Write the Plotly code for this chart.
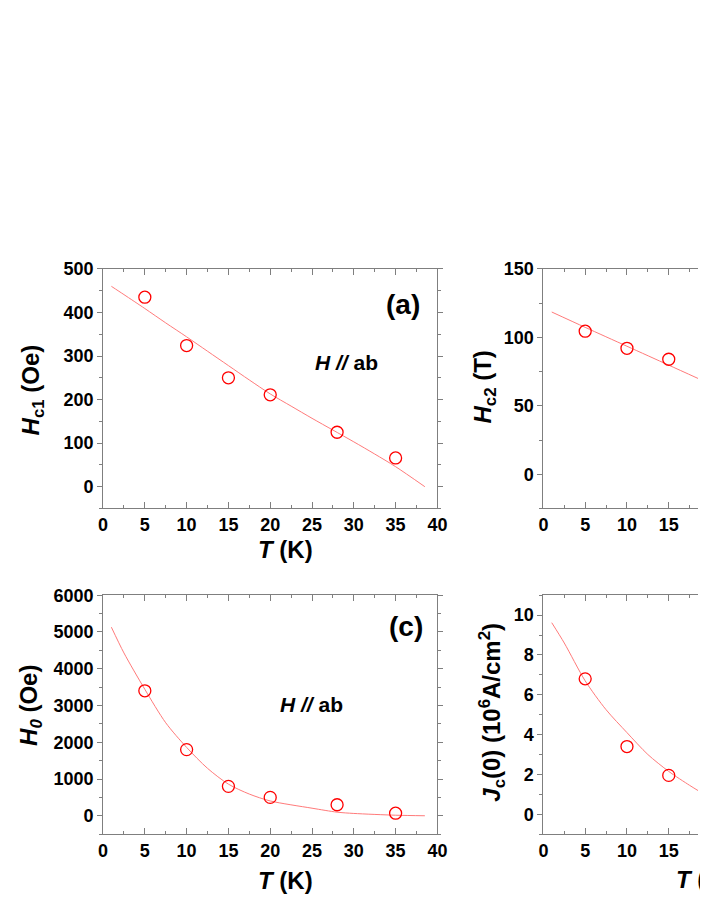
import plotly.graph_objects as go

# measured points
T_pts = [5, 10, 15, 20, 28, 35]
Hc1_pts = [435, 324, 250, 211, 125, 66]
H0_pts = [3400, 1800, 800, 500, 300, 70]

T_b = [5, 10, 15]
Hc2_pts = [104.5, 92, 84]
Jc_pts = [6.8, 3.4, 1.95]

# fitted curves
T_fit_a = [1, 2.5, 5, 7.5, 10, 12.5, 15, 17.5, 20, 22.5, 25, 27.5, 30, 32.5, 35, 38.5]
Hc1_fit = [460, 441, 409, 376, 344, 311, 278, 245, 213, 185, 157, 130, 103, 75, 46, 0]
T_fit_c = [1, 2.5, 5, 7.5, 10, 12.5, 15, 17.5, 20, 25, 28, 30, 35, 38.5]
H0_fit = [5130, 4430, 3440, 2530, 1860, 1290, 860, 590, 403, 206, 98, 63, 15, 0]

T_fit_b = [1, 5, 10, 15, 18.5]
Hc2_fit = [118.5, 107.3, 93.5, 79.7, 70]
T_fit_d = [1, 2.5, 5, 7.5, 10, 12.5, 15, 17.5, 18.5]
Jc_fit = [9.62, 8.6, 6.7, 5.25, 4.1, 3.0, 2.15, 1.45, 1.19]

# page body has an 8px margin, so the figure is a bit smaller than the window
OFF = 8
W, H = 700, 901
FONT = "Liberation Sans, Arial, sans-serif"
GREY = "#7f7f7f"
LINE = "#ff7a7a"


def px(x):
    return (x - OFF) / W


def py(y):
    return 1 - (y - OFF) / H


fig = go.Figure()

panels = [
    ("x", "y", T_pts, Hc1_pts, T_fit_a, Hc1_fit),
    ("x2", "y2", T_b, Hc2_pts, T_fit_b, Hc2_fit),
    ("x3", "y3", T_pts, H0_pts, T_fit_c, H0_fit),
    ("x4", "y4", T_b, Jc_pts, T_fit_d, Jc_fit),
]
for xa, ya, tx, ty, fx, fy in panels:
    fig.add_trace(go.Scatter(x=fx, y=fy, mode="lines", xaxis=xa, yaxis=ya,
                             line=dict(color=LINE, width=1, shape="spline", smoothing=0.8),
                             showlegend=False, hoverinfo="skip"))
    fig.add_trace(go.Scatter(x=tx, y=ty, mode="markers", xaxis=xa, yaxis=ya,
                             marker=dict(symbol="circle-open", size=12,
                                         color="red", line=dict(color="red", width=1.3)),
                             showlegend=False))


def xax(domain, rng, anchor):
    return dict(domain=domain, range=rng, anchor=anchor, showgrid=False, zeroline=False,
                showline=True, linecolor=GREY, linewidth=1, mirror="allticks",
                ticks="inside", ticklen=6, tickcolor=GREY, tickwidth=1,
                dtick=5, tick0=0,
                minor=dict(ticks="inside", ticklen=3, dtick=2.5, tickcolor=GREY),
                tickfont=dict(family=FONT, size=18, color="black", weight="bold"))


def yax(domain, rng, anchor, dtick, mdtick, mirror):
    return dict(domain=domain, range=rng, anchor=anchor, showgrid=False, zeroline=False,
                showline=True, linecolor=GREY, linewidth=1, mirror=mirror,
                ticks="outside", ticklen=5, tickcolor=GREY, tickwidth=1,
                dtick=dtick, tick0=0,
                minor=dict(ticks="outside", ticklen=3, dtick=mdtick, tickcolor=GREY),
                tickfont=dict(family=FONT, size=18, color="black", weight="bold"))


xl = [px(100), px(441.7)]
xr = [px(550), 1.0]
yt = [py(504), py(261.7)]
yb = [py(833.3), py(591.7)]

fig.update_layout(
    width=W, height=H,
    margin=dict(l=0, r=0, t=0, b=0),
    paper_bgcolor="white", plot_bgcolor="white",
    xaxis=xax(xl, [0, 40], "y"),
    yaxis=yax(yt, [-50, 500], "x", 100, 50, "allticks"),
    xaxis2=xax(xr, [0, 18.5], "y2"),
    yaxis2=yax(yt, [-25, 150], "x2", 50, 25, False),
    xaxis3=xax(xl, [0, 40], "y3"),
    yaxis3=yax(yb, [-500, 6000], "x3", 1000, 500, "allticks"),
    xaxis4=xax(xr, [0, 18.5], "y4"),
    yaxis4=yax(yb, [-1, 11], "x4", 2, 1, False),
)


def note(text, x, y, size, angle=0, xanchor="center"):
    fig.add_annotation(text=text, x=px(x), y=py(y), xref="paper", yref="paper",
                       showarrow=False, textangle=angle, xanchor=xanchor, yanchor="middle",
                       font=dict(family=FONT, size=size, color="black", weight="bold"))


note("(a)", 407, 298, 28)
note("(c)", 410, 623, 28)
note("<i>H //</i> ab", 349, 356, 21)
note("<i>H //</i> ab", 313, 702, 21)

note("<i>H</i><sub>c1</sub> (Oe)", 28, 384, 24, -90)
note("<i>H</i><sub>c2</sub> (T)", 490, 381, 24, -90)
note("<i>H<sub>0</sub></i> (Oe)", 26, 703, 24, -90)
note("<i>J</i><sub>c</sub>(0) (10<sup>6</sup>A/cm<sup>2</sup>)", 498, 710, 24, -90)

note("<i>T</i> (K)", 286, 545, 24)
note("<i>T</i> (K)", 286, 880, 24)
note("<i>T</i> (K)", 683, 879, 24, xanchor="left")

fig.write_html("out.html")
